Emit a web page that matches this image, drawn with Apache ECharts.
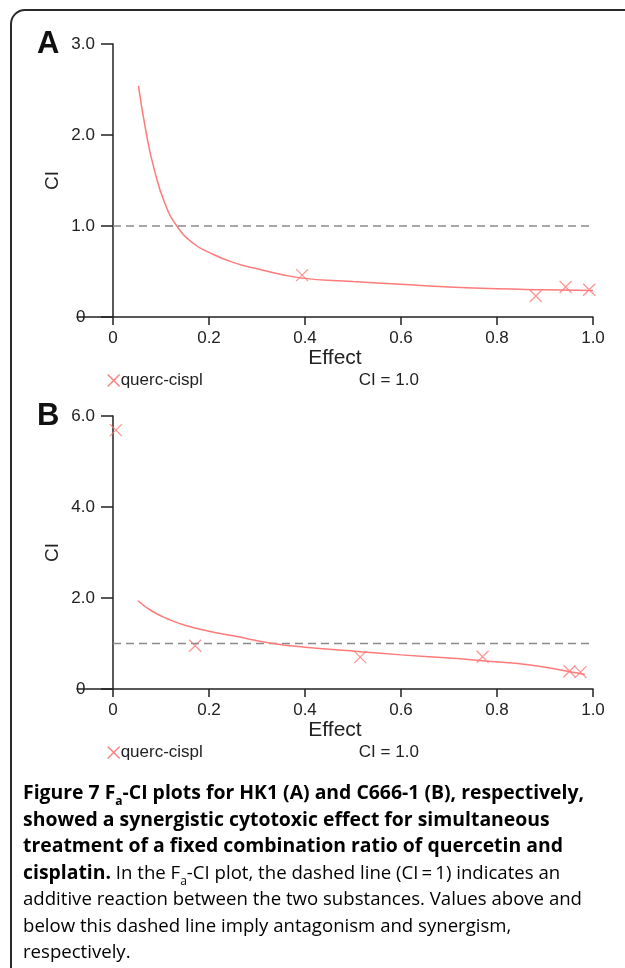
<!DOCTYPE html>
<html>
<head>
<meta charset="utf-8">
<script src="https://cdn.jsdelivr.net/npm/echarts@6/dist/echarts.min.js"></script>
<style>
  html, body { margin: 0; padding: 0; background: #fff; }
  #main { width: 625px; height: 968px; }
</style>
</head>
<body>
<div id="main"></div>
<script>
// tick values on the Effect (fa) axis
var effectTicks = [0, 0.2, 0.4, 0.6, 0.8, 1.0];
var effectRange = [0, 1];
var ciLevel = 1.0;

// panel A (HK1)
var scatterA = [[0.394, 0.46], [0.881, 0.23], [0.943, 0.33], [0.992, 0.30]];
var curveA = [
    [0.053, 2.54], [0.070, 2.00], [0.086, 1.62], [0.108, 1.25],
    [0.133, 1.00], [0.167, 0.81], [0.20, 0.71], [0.25, 0.60], [0.30, 0.53],
    [0.39, 0.43], [0.50, 0.39], [0.60, 0.36], [0.70, 0.33], [0.80, 0.31],
    [0.90, 0.30], [1.00, 0.29]
];
var ciMaxA = 3, ciStepA = 1;

// panel B (C666-1)
var scatterB = [[0.006, 5.69], [0.171, 0.95], [0.515, 0.70], [0.770, 0.71], [0.951, 0.39], [0.974, 0.37]];
var curveB = [
    [0.052, 1.94], [0.08, 1.72], [0.112, 1.55], [0.15, 1.40], [0.20, 1.27],
    [0.25, 1.17], [0.334, 1.00], [0.40, 0.92], [0.515, 0.82], [0.60, 0.75],
    [0.70, 0.68], [0.77, 0.62], [0.869, 0.53], [0.952, 0.38], [0.983, 0.32]
];
var ciMaxB = 6, ciStepB = 2;

var seriesName = 'querc-cispl';
var refName = 'CI = 1.0';

var font = 'Liberation Sans';
var red = '#ff7b7b';
var crossIcon = 'path://M0,0L10,10M10,0L0,10';

var refLine = effectRange.map(function (x) { return [x, ciLevel]; });

var myChart = echarts.init(document.getElementById('main'));

function xAxisFor(idx) {
    return {
        type: 'value',
        gridIndex: idx,
        min: -0.075,
        max: 1,
        name: 'Effect',
        nameLocation: 'middle',
        nameGap: 31,
        nameMoveOverlap: false,
        nameTextStyle: { fontFamily: font, fontSize: 21, color: '#222' },
        axisLine: { lineStyle: { color: '#222', width: 1.5 } },
        axisTick: { show: true, length: 8, customValues: effectTicks, lineStyle: { color: '#222', width: 1.5 } },
        axisLabel: {
            customValues: effectTicks,
            fontFamily: font, fontSize: 17, color: '#222', margin: 13,
            formatter: function (v) { return v === 0 ? '0' : v.toFixed(1); }
        },
        splitLine: { show: false }
    };
}

function yAxisFor(idx, max, step) {
    return {
        type: 'value',
        gridIndex: idx,
        min: 0,
        max: max,
        interval: step,
        offset: -36, // sits on Effect = 0
        name: 'CI',
        nameLocation: 'middle',
        nameGap: 51,
        nameMoveOverlap: false,
        nameTextStyle: { fontFamily: font, fontSize: 19, color: '#222' },
        axisLine: { onZero: false, lineStyle: { color: '#222', width: 1.5 } },
        axisTick: { show: true, length: 12, lineStyle: { color: '#222', width: 1.5 } },
        axisLabel: {
            fontFamily: font, fontSize: 17, color: '#222', margin: 18,
            padding: [0, 0, 11, 0],
            formatter: function (v) { return v === 0 ? '0  ' : v.toFixed(1); }
        },
        splitLine: { show: false }
    };
}

function seriesFor(idx, curve, points) {
    return [
        {
            name: refName, type: 'line', xAxisIndex: idx, yAxisIndex: idx,
            data: refLine, showSymbol: false, silent: true,
            lineStyle: { color: '#8a8a8a', width: 1.5, type: [8, 5] }
        },
        {
            name: seriesName, type: 'line', xAxisIndex: idx, yAxisIndex: idx,
            data: curve, smooth: 0.5, showSymbol: false,
            lineStyle: { color: red, width: 1.5 }
        },
        {
            name: seriesName, type: 'scatter', xAxisIndex: idx, yAxisIndex: idx,
            data: points, symbol: crossIcon, symbolSize: 12,
            itemStyle: { color: 'transparent', borderColor: red, borderWidth: 1.3 }
        }
    ];
}

function legendFor(top) {
    return {
        left: 107, top: top, padding: 0,
        itemWidth: 12, itemHeight: 12, itemGap: 143,
        textStyle: { fontFamily: font, fontSize: 17, color: '#222', padding: [0, 0, 0, -4] },
        data: [
            { name: seriesName, icon: crossIcon, itemStyle: { color: 'transparent', borderColor: red, borderWidth: 1.3 } },
            { name: refName, icon: 'none' }
        ]
    };
}

var capY = 796, capStep = 26.6, capX = 23;
var capLines = [
    '{b|Figure 7 F}{bs|a}{b|-CI plots for HK1 (A) and C666-1 (B), respectively,}',
    '{b|showed a synergistic cytotoxic effect for simultaneous}',
    '{b|treatment of a fixed combination ratio of quercetin and}',
    '{b|cisplatin.}{r| In the F}{rs|a}{r|-CI plot, the dashed line (CI\u2009=\u20091) indicates an}',
    '{r|additive reaction between the two substances. Values above and}',
    '{r|below this dashed line imply antagonism and synergism,}',
    '{r|respectively.}'
];
var capRich = {
    b: { fontFamily: 'Open Sans', fontWeight: 'bold', fontSize: 19.4, color: '#1a1a1a', lineHeight: 24 },
    bs: { fontFamily: 'Open Sans', fontWeight: 'bold', fontSize: 12, color: '#1a1a1a', lineHeight: 24, verticalAlign: 'bottom', padding: [0, 0, -2, 0] },
    r: { fontFamily: 'Open Sans', fontSize: 18.6, color: '#555', lineHeight: 24 },
    rs: { fontFamily: 'Open Sans', fontSize: 12, color: '#555', lineHeight: 24, verticalAlign: 'bottom', padding: [0, 0, -2, 0] }
};

var frameStyle = { stroke: '#2a2a2a', lineWidth: 2, fill: null };
var graphics = [
    { type: 'line', shape: { x1: 11, y1: 24, x2: 11, y2: 968 }, style: frameStyle },
    { type: 'line', shape: { x1: 25, y1: 10, x2: 625, y2: 10 }, style: frameStyle },
    { type: 'arc', shape: { cx: 25, cy: 24, r: 14, startAngle: Math.PI, endAngle: Math.PI * 1.5 }, style: frameStyle },
    { type: 'text', left: 37, top: 29, style: { text: 'A', fontFamily: font, fontWeight: 'bold', fontSize: 31, fill: '#111' } },
    { type: 'text', left: 37, top: 401, style: { text: 'B', fontFamily: font, fontWeight: 'bold', fontSize: 31, fill: '#111' } }
];
capLines.forEach(function (line, i) {
    graphics.push({
        type: 'text', left: capX, top: capY + i * capStep - 12,
        style: { text: line, rich: capRich }
    });
});

option = {
    backgroundColor: '#fff',
    animation: false,
    grid: [
        { left: 77, right: 32, top: 44, height: 273, outerBoundsMode: 'none', containLabel: false },
        { left: 77, right: 32, top: 416, height: 273, outerBoundsMode: 'none', containLabel: false }
    ],
    xAxis: [xAxisFor(0), xAxisFor(1)],
    yAxis: [yAxisFor(0, ciMaxA, ciStepA), yAxisFor(1, ciMaxB, ciStepB)],
    legend: [legendFor(372), legendFor(744)],
    series: seriesFor(0, curveA, scatterA).concat(seriesFor(1, curveB, scatterB)),
    graphic: graphics
};

myChart.setOption(option);
</script>
</body>
</html>
